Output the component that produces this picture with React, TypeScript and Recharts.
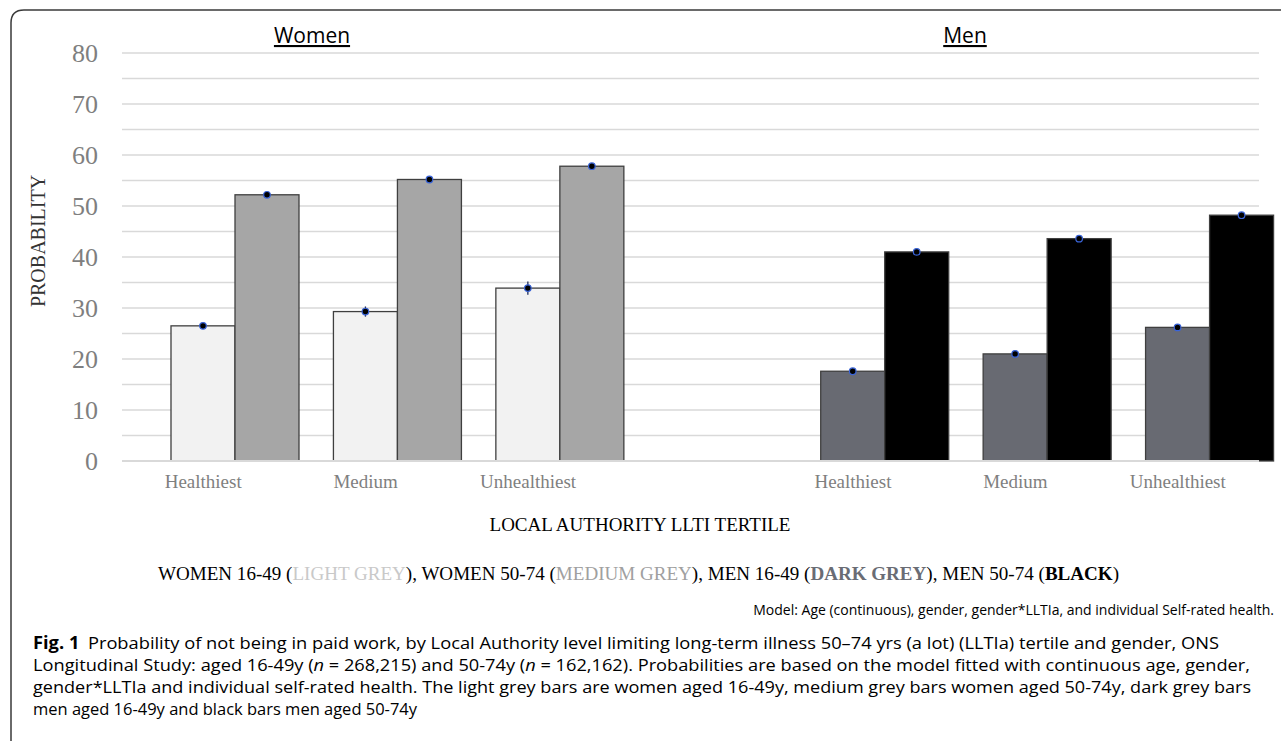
import React from "react";
import { BarChart, Bar, XAxis, YAxis, CartesianGrid } from "recharts";

const categories = ["Healthiest", "Medium", "Unhealthiest", "", "Healthiest", "Medium", "Unhealthiest"];
const genders = ["W", "W", "W", "", "M", "M", "M"];
const aged1649 = [26.5, 29.3, 33.9, null, 17.6, 21.0, 26.2];
const aged5074 = [52.2, 55.2, 57.8, null, 41.0, 43.6, 48.2];
const err1649 = [0.4, 1.0, 1.3, null, 0.4, 0.5, 0.4];
const err5074 = [0.3, 0.3, 0.3, null, 0.3, 0.3, 0.3];
const yTicks = [0, 10, 20, 30, 40, 50, 60, 70, 80];
const gridValues = [0, 5, 10, 15, 20, 25, 30, 35, 40, 45, 50, 55, 60, 65, 70, 75, 80];

const data = categories.map((c, i) => ({
  cat: c,
  gender: genders[i],
  young: aged1649[i],
  old: aged5074[i],
  youngErr: err1649[i],
  oldErr: err5074[i],
}));

const COLORS = {
  W: { young: "#f2f2f2", old: "#a6a6a6" },
  M: { young: "#686a72", old: "#000000" },
};

const SHIFT = 32;

const makeShape = (key: "young" | "old") => (props: any) => {
  const { x, y, width, height, payload } = props;
  const v = payload ? payload[key] : null;
  if (v == null || !height) return null;
  const g = payload.gender as "W" | "M";
  const fill = COLORS[g][key];
  const pxPerUnit = height / v;
  const e = (payload[key + "Err"] || 0) * pxPerUnit;
  const cx = x + SHIFT + width / 2;
  return (
    <g>
      <rect x={x + SHIFT} y={y} width={width} height={height} fill={fill} stroke="#3f3f3f" strokeWidth={1.3} />
      <line x1={cx} x2={cx} y1={y - e} y2={y + e} stroke="#1c2b5c" strokeWidth={1.3} />
      <circle cx={cx} cy={y} r={3.3} fill="#000" stroke="#3a64d8" strokeWidth={1.2} />
    </g>
  );
};

const serif = "'Liberation Serif', 'Times New Roman', serif";
const sans = "'Open Sans', 'Noto Sans', sans-serif";

export default function App() {
  return (
    <div style={{ position: "absolute", left: 0, top: 0, width: 1281, height: 741, background: "#fff", overflow: "hidden" }}>
      <BarChart
        width={1281}
        height={741}
        data={data}
        margin={{ top: 53, right: 22, bottom: 250, left: 22 }}
        barCategoryGap={17}
        barGap={0}
      >
        <CartesianGrid vertical={false} horizontalValues={gridValues} stroke="#d9d9d9" strokeWidth={1.5} />
        <XAxis
          dataKey="cat"
          height={30}
          tickLine={false}
          tickSize={0}
          tickMargin={14}
          axisLine={{ stroke: "#d9d9d9", strokeWidth: 2 }}
          tick={{ fill: "#7f7f7f", fontSize: 19, fontFamily: serif }}
          interval={0}
        />
        <YAxis
          width={100}
          domain={[0, 80]}
          ticks={yTicks}
          tickLine={false}
          axisLine={false}
          tickSize={0}
          tickMargin={24}
          tick={{ fill: "#7f7f7f", fontSize: 26, fontFamily: serif }}
        />
        <Bar dataKey="young" fill="#f2f2f2" isAnimationActive={false} shape={makeShape("young")} />
        <Bar dataKey="old" fill="#a6a6a6" isAnimationActive={false} shape={makeShape("old")} />
      </BarChart>
      <svg width={1281} height={741} style={{ position: "absolute", left: 0, top: 0, pointerEvents: "none" }}>
        <path d="M 11 741 L 11 23 Q 11 10 24 10 L 1281 10" fill="none" stroke="#3a3a3a" strokeWidth={1.5} />
        <text x={312} y={43} textAnchor="middle" fontFamily={sans} fontSize={21} fill="#000" textDecoration="underline">Women</text>
        <text x={965} y={43} textAnchor="middle" fontFamily={sans} fontSize={21} fill="#000" textDecoration="underline">Men</text>
        <text x={38} y={241} textAnchor="middle" dominantBaseline="central" transform="rotate(-90 38 241)" fontFamily={serif} fontSize={20} fill="#333">PROBABILITY</text>
        <text x={640} y={531} textAnchor="middle" fontFamily={serif} fontSize={19} fill="#000">LOCAL AUTHORITY LLTI TERTILE</text>
        <text x={158} y={580} fontFamily={serif} fontSize={19} fill="#000" textLength={961} lengthAdjust="spacingAndGlyphs">
          WOMEN 16-49 (<tspan fill="#c9c9c9">LIGHT GREY</tspan>), WOMEN 50-74 (<tspan fill="#a0a0a0">MEDIUM GREY</tspan>), MEN 16-49 (<tspan fill="#6a6c74" fontWeight="bold">DARK GREY</tspan>), MEN 50-74 (<tspan fontWeight="bold">BLACK</tspan>)
        </text>
        <text x={1274} y={615} textAnchor="end" fontFamily={sans} fontSize={14} fill="#000">Model: Age (continuous), gender, gender*LLTIa, and individual Self-rated health.</text>
        <g fontFamily={sans} fontSize={17} fill="#000">
          <text x={33} y={649} textLength={1186} lengthAdjust="spacingAndGlyphs"><tspan fontWeight="bold">Fig. 1</tspan><tspan dx={8}>Probability of not being in paid work, by Local Authority level limiting long-term illness 50–74 yrs (a lot) (LLTIa) tertile and gender, ONS</tspan></text>
          <text x={33} y={671} textLength={1217} lengthAdjust="spacingAndGlyphs">Longitudinal Study: aged 16-49y (<tspan fontStyle="italic">n</tspan>{" = 268,215) and 50-74y ("}<tspan fontStyle="italic">n</tspan>{" = 162,162). Probabilities are based on the model fitted with continuous age, gender,"}</text>
          <text x={33} y={693} textLength={1218} lengthAdjust="spacingAndGlyphs">gender*LLTIa and individual self-rated health. The light grey bars are women aged 16-49y, medium grey bars women aged 50-74y, dark grey bars</text>
          <text x={33} y={715} textLength={384} lengthAdjust="spacingAndGlyphs">men aged 16-49y and black bars men aged 50-74y</text>
        </g>
      </svg>
    </div>
  );
}
